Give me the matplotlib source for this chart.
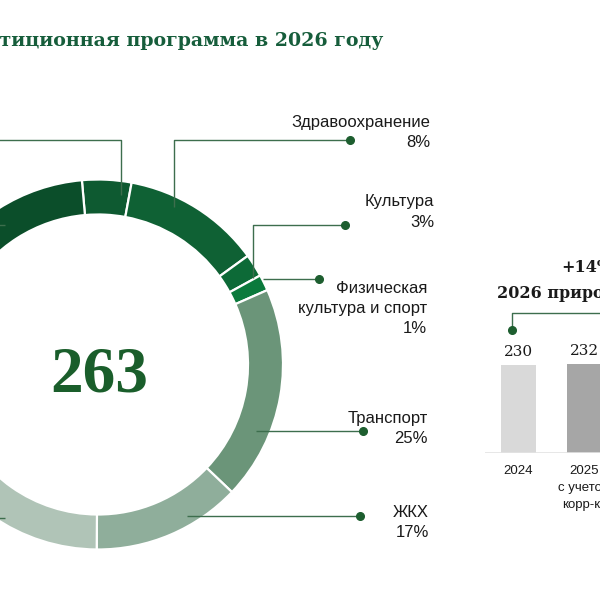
import matplotlib
matplotlib.use("Agg")
import matplotlib.pyplot as plt

# ---------------- data ----------------
title_text = "Инвестиционная программа в 2026 году"
total_text = "263"
# ring segments clockwise from top (shares of the ring, % as drawn)
segment_names = ["Прочее-1", "Здравоохранение", "Культура", "Физическая культура и спорт",
                 "Транспорт", "ЖКХ", "Прочее-2", "Прочее-3", "Прочее-4"]
segment_shares = [4.3, 12.1, 2.0, 1.4, 18.7, 13.0, 19.3, 13.9, 15.3]
segment_colors = ["#0e5a31", "#0f6134", "#0d6a37", "#0b7a3c", "#6b9579",
                  "#8fae9b", "#b0c4b7", "#c9d6ce", "#0b4e2a"]
label_lines = [["Здравоохранение", "8%"], ["Культура", "3%"],
               ["Физическая", "культура и спорт", "1%"],
               ["Транспорт", "25%"], ["ЖКХ", "17%"]]

bar_categories = ["2024", "2025\nс учетом\nкорр-ки", "2026"]
bar_values = [230, 232, 263]
bar_labels = ["230", "232", "263"]
bar_colors = ["#d9d9d9", "#a6a6a6", "#1f6b3a"]
growth_text = "+14%"
growth_sub = "2026 прирост"

# ---------------- figure ----------------
fig = plt.figure(figsize=(6, 6), dpi=100)
ax = fig.add_axes([0, 0, 1, 1])

def Y(y):
    return 600 - y

cx, cy, R, W = 98, 364.5, 185, 35
ax.pie(segment_shares, colors=segment_colors, startangle=95, counterclock=False,
       radius=R, center=(cx, Y(cy)),
       wedgeprops=dict(width=W, edgecolor="white", linewidth=1.6))
ax.set_xlim(0, 600)
ax.set_ylim(0, 600)
ax.set_aspect("equal")
ax.axis("off")

# title
ax.text(383, Y(46), title_text, ha="right", va="baseline", fontsize=13.65,
        fontweight="bold", family="DejaVu Serif", color="#165d3b")
# center value
ax.text(99, Y(391), total_text, ha="center", va="baseline", fontsize=47,
        fontweight="bold", family="Liberation Serif", color="#1a5e2b")

# leader lines
lc, dc = "#3d6e4d", "#1d5e2f"
leaders = [
    ([-10, 121, 121], [140, 140, 195], False),
    ([350, 174, 174], [140, 140, 207], True),
    ([345, 253, 253], [225, 225, 278], True),
    ([319, 263], [279, 279], True),
    ([363, 256], [431, 431], True),
    ([360, 187], [516, 516], True),
    ([-10, 5], [225, 225], False),
    ([-10, 5], [518, 518], False),
]
for xs, ys, dot in leaders:
    ax.plot(xs, [Y(v) for v in ys], color=lc, lw=1.0, solid_capstyle="butt")
    if dot:
        ax.plot(xs[0], Y(ys[0]), "o", color=dc, ms=5.5)

# labels
label_pos = [(430, [127, 147]), (434, [206, 227]), (427, [293, 313, 333]),
             (428, [423, 443]), (429, [517, 537])]
for lines, (xr, bases) in zip(label_lines, label_pos):
    for t, b in zip(lines, bases):
        ax.text(xr, Y(b), t, ha="right", va="baseline", fontsize=12,
                family="Liberation Sans", color="#1a1a1a")

# ---------------- bars ----------------
px_per_unit = 0.383
ax_left, ax_w, base_y, ax_h = 485, 115, 453, 120
unit = 66
x0 = -(518.5 - ax_left) / unit
bax = fig.add_axes([ax_left / 600, (600 - base_y) / 600, ax_w / 600, ax_h / 600])
bax.set_xlim(x0, x0 + ax_w / unit)
bax.set_ylim(0, ax_h / px_per_unit)
xs = list(range(len(bar_values)))
bax.bar(xs, bar_values, width=35 / unit, color=bar_colors)
bax.axhline(0, color="#e3e3e3", lw=1.2)
bax.axis("off")

for x, v, lab in zip(xs, bar_values, bar_labels):
    bax.text(x, v + 9 / px_per_unit, lab, ha="center", va="baseline",
             fontsize=11, family="DejaVu Serif", color="#1a1a1a", clip_on=False)

for x, cat in zip(xs, bar_categories):
    for i, line in enumerate(cat.split("\n")):
        ax.text(518.5 + x * unit, Y(474 + i * 17), line, ha="center", va="baseline",
                fontsize=9.5, family="Liberation Sans", color="#1a1a1a")

# growth annotation
ax.text(561, Y(272), growth_text, ha="left", va="baseline", fontsize=11.5,
        fontweight="bold", family="DejaVu Serif", color="#1a1a1a")
ax.text(497, Y(298), growth_sub, ha="left", va="baseline", fontsize=11.5,
        fontweight="bold", family="DejaVu Serif", color="#1a1a1a")
ax.plot([512, 512, 700], [Y(330), Y(313), Y(313)], color=lc, lw=1.0, clip_on=False)
ax.plot(512, Y(330), "o", color=dc, ms=5.5)

fig.savefig("out.png", dpi=100)
